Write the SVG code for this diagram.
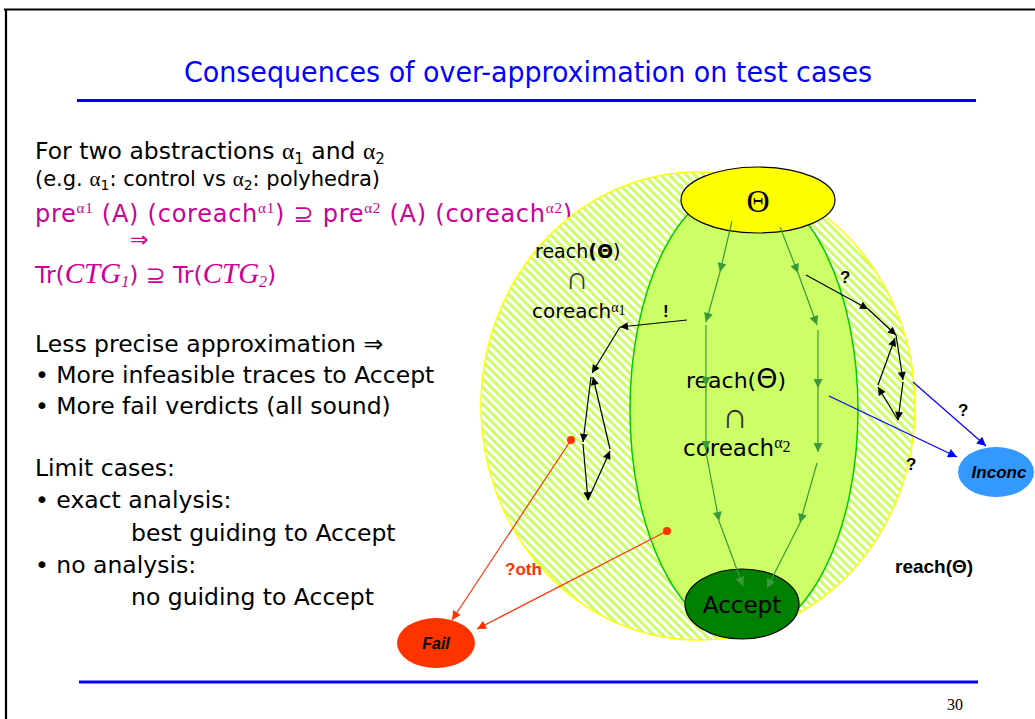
<svg xmlns="http://www.w3.org/2000/svg" width="1035" height="719" viewBox="0 0 1035 719">
<defs>
<style>
.t{font-family:"DejaVu Sans","Verdana",sans-serif;fill:#000}
.pk{font-family:"DejaVu Sans","Verdana",sans-serif;fill:#cc0099}
.ser{font-family:"Liberation Serif","Times New Roman",serif}
.ar{font-family:"Liberation Sans",Arial,sans-serif}
.cap{font-family:"Liberation Serif","DejaVu Serif",serif;fill:#333}
.g{stroke:#3a9a3a;stroke-width:1.2;fill:none;marker-end:url(#ag)}
.k{stroke:#000;stroke-width:1.2;fill:none;marker-end:url(#ak)}
.b{stroke:#0000ff;stroke-width:1.2;fill:none;marker-end:url(#ab)}
.r{stroke:#ff3300;stroke-width:1.2;fill:none;marker-end:url(#ar)}
</style>
<pattern id="hatch" width="6" height="6" patternUnits="userSpaceOnUse" patternTransform="rotate(-45)">
<rect width="6" height="6" fill="#ffffff"/>
<rect width="3" height="6" fill="#ccff66"/>
</pattern>
<marker id="ag" viewBox="0 0 10 10" refX="10" refY="5" markerWidth="10" markerHeight="9" markerUnits="userSpaceOnUse" orient="auto"><path d="M0,0 L10,5 L0,10 z" fill="#3a9a3a"/></marker>
<marker id="ak" viewBox="0 0 10 10" refX="10" refY="5" markerWidth="10" markerHeight="8" markerUnits="userSpaceOnUse" orient="auto"><path d="M0,0 L10,5 L0,10 z" fill="#000"/></marker>
<marker id="ab" viewBox="0 0 10 10" refX="10" refY="5" markerWidth="11" markerHeight="9" markerUnits="userSpaceOnUse" orient="auto"><path d="M0,0 L10,5 L0,10 z" fill="#0000ff"/></marker>
<marker id="ar" viewBox="0 0 10 10" refX="10" refY="5" markerWidth="11" markerHeight="9" markerUnits="userSpaceOnUse" orient="auto"><path d="M0,0 L10,5 L0,10 z" fill="#ff3300"/></marker>
</defs>
<rect width="1035" height="719" fill="#fff"/>
<!-- frame -->
<line x1="4" y1="9.5" x2="1035" y2="9.5" stroke="#000" stroke-width="2"/>
<line x1="6" y1="9" x2="6" y2="719" stroke="#000" stroke-width="2.2"/>
<!-- title -->
<text x="528" y="82" text-anchor="middle" font-family="'Liberation Sans Narrow','DejaVu Sans Condensed','Liberation Sans',sans-serif" font-size="28" fill="#0000ff" textLength="688" lengthAdjust="spacingAndGlyphs">Consequences of over-approximation on test cases</text>
<line x1="77" y1="100.5" x2="976" y2="100.5" stroke="#0000ff" stroke-width="3"/>
<line x1="79" y1="682" x2="978" y2="682" stroke="#0000ff" stroke-width="3"/>
<text x="947" y="710" class="ser" font-size="16">30</text>

<!-- left text -->
<text class="t" x="35" y="159" font-size="23.5">For two abstractions <tspan class="ser">α</tspan><tspan font-size="15" dy="5">1</tspan><tspan dy="-5"> and </tspan><tspan class="ser">α</tspan><tspan font-size="15" dy="5">2</tspan></text>
<text class="t" x="35" y="186" font-size="21">(e.g. <tspan class="ser">α</tspan><tspan font-size="14" dy="4">1</tspan><tspan dy="-4">: control vs </tspan><tspan class="ser">α</tspan><tspan font-size="14" dy="4">2</tspan><tspan dy="-4">: polyhedra)</tspan></text>
<text class="pk" x="35" y="222" font-size="24" textLength="537">pre<tspan class="ser" font-size="15" dy="-9">α1</tspan><tspan dy="9"> (A) (coreach</tspan><tspan class="ser" font-size="15" dy="-9">α1</tspan><tspan dy="9">) ⊇  pre</tspan><tspan class="ser" font-size="15" dy="-9">α2</tspan><tspan dy="9"> (A) (coreach</tspan><tspan class="ser" font-size="15" dy="-9">α2</tspan><tspan dy="9">)</tspan></text>
<text class="pk" x="130" y="247" font-size="22">⇒</text>
<text class="pk" x="35" y="283" font-size="23.5">Tr(<tspan class="ser" font-style="italic" font-size="29">CTG</tspan><tspan class="ser" font-style="italic" font-size="16" dy="4">1</tspan><tspan dy="-4">) ⊇ Tr(</tspan><tspan class="ser" font-style="italic" font-size="29">CTG</tspan><tspan class="ser" font-style="italic" font-size="16" dy="4">2</tspan><tspan dy="-4">)</tspan></text>

<text class="t" x="35" y="352" font-size="23.5">Less precise approximation ⇒</text>
<text class="t" x="35" y="383" font-size="23.5">• More infeasible traces to Accept</text>
<text class="t" x="35" y="414" font-size="23.5">• More fail verdicts (all sound)</text>
<text class="t" x="35" y="476" font-size="23.5">Limit cases:</text>
<text class="t" x="35" y="508" font-size="23.5">• exact analysis:</text>
<text class="t" x="131" y="541" font-size="23.5">best guiding to Accept</text>
<text class="t" x="35" y="573" font-size="23.5">• no analysis:</text>
<text class="t" x="131" y="605" font-size="23.5">no guiding to Accept</text>

<!-- regions -->
<g id="reach">
<ellipse cx="698" cy="406" rx="217" ry="234" fill="url(#hatch)" stroke="#ffff00" stroke-width="1.5"/>
</g>
<g id="coreach2">
<ellipse cx="744" cy="410" rx="114" ry="225" fill="#ccff66" stroke="#00cc00" stroke-width="1.5"/>
</g>
<g id="theta">
<ellipse cx="758" cy="200" rx="77" ry="33" fill="#ffff00" stroke="#000" stroke-width="1.2"/>
<text x="758" y="212" text-anchor="middle" class="ser" font-size="32">Θ</text>
</g>
<g id="accept">
<ellipse cx="742" cy="604" rx="57" ry="35" fill="#008000" stroke="#000" stroke-width="1.2"/>
<text x="742" y="613" text-anchor="middle" class="t" font-size="23">Accept</text>
</g>
<g id="fail">
<ellipse cx="436" cy="643" rx="39" ry="25" fill="#ff3300"/>
<text x="436" y="649" text-anchor="middle" class="ar" font-size="16" font-weight="bold" font-style="italic">Fail</text>
</g>
<g id="inconc">
<ellipse cx="996" cy="472" rx="38" ry="25" fill="#3399ff"/>
<text x="999" y="478" text-anchor="middle" class="ar" font-size="17" font-weight="bold" font-style="italic">Inconc</text>
</g>

<!-- labels -->
<text class="t" x="535" y="258" font-size="19">reach<tspan font-weight="bold">(Θ</tspan>)</text>
<text class="cap" x="577" y="289" font-size="32" text-anchor="middle">∩</text>
<text class="t" x="532" y="318" font-size="20">coreach<tspan class="ser" font-size="14" dy="-6">α</tspan><tspan class="ser" font-size="14" dy="3">1</tspan></text>
<text class="ar" x="663" y="317" font-size="17" font-weight="bold">!</text>
<text class="t" x="686" y="388" font-size="22">reach(<tspan font-size="27">Θ</tspan>)</text>
<text class="cap" x="735" y="428" font-size="36" text-anchor="middle" fill="#000">∩</text>
<text class="t" x="683" y="456" font-size="23">coreach<tspan class="ser" font-size="16" dy="-8">α</tspan><tspan class="ser" font-size="16" dy="4">2</tspan></text>
<text class="ar" x="895" y="573" font-size="19" font-weight="bold">reach(Θ)</text>
<text class="ar" x="505" y="575" font-size="17" font-weight="bold" fill="#ff3300">?oth</text>
<text class="ar" x="840" y="283" font-size="17" font-weight="bold">?</text>
<text class="ar" x="958" y="416" font-size="17" font-weight="bold">?</text>
<text class="ar" x="906" y="470" font-size="17" font-weight="bold">?</text>

<!-- connectors -->
<g id="connectors">
<line class="g" x1="732" y1="221" x2="720" y2="272"/>
<line class="g" x1="720" y1="272" x2="706" y2="322"/>
<line class="g" x1="706" y1="325" x2="706" y2="386"/>
<line class="g" x1="706" y1="386" x2="706" y2="450"/>
<line class="g" x1="706" y1="452" x2="719" y2="521"/>
<line class="g" x1="719" y1="521" x2="743" y2="586"/>
<line class="g" x1="780" y1="227" x2="798" y2="273"/>
<line class="g" x1="798" y1="273" x2="817" y2="325"/>
<line class="g" x1="818" y1="330" x2="818" y2="388"/>
<line class="g" x1="818" y1="388" x2="818" y2="452"/>
<line class="g" x1="817" y1="463" x2="800" y2="523"/>
<line class="g" x1="800" y1="523" x2="767" y2="588"/>

<line class="k" x1="806" y1="275" x2="868" y2="309"/>
<line class="k" x1="868" y1="309" x2="896" y2="335"/>
<line class="k" x1="896" y1="335" x2="903" y2="380"/>
<line class="k" x1="903" y1="382" x2="898" y2="420"/>
<line class="k" x1="898" y1="420" x2="878" y2="387"/>
<line class="k" x1="878" y1="385" x2="895" y2="338"/>

<line class="k" x1="687" y1="320" x2="620" y2="327"/>
<line class="k" x1="620" y1="327" x2="592" y2="373"/>
<line class="k" x1="591" y1="377" x2="583" y2="442"/>
<line class="k" x1="583" y1="444" x2="588" y2="500"/>
<line class="k" x1="588" y1="500" x2="610" y2="451"/>
<line class="k" x1="610" y1="449" x2="593" y2="377"/>

<line class="b" x1="913" y1="382" x2="986" y2="446"/>
<line class="b" x1="829" y1="396" x2="957" y2="457"/>

<circle cx="571" cy="440" r="4" fill="#ff3300"/>
<circle cx="667" cy="531" r="4" fill="#ff3300"/>
<line class="r" x1="571" y1="440" x2="452" y2="620"/>
<line class="r" x1="667" y1="531" x2="477" y2="629"/>
</g>
</svg>
